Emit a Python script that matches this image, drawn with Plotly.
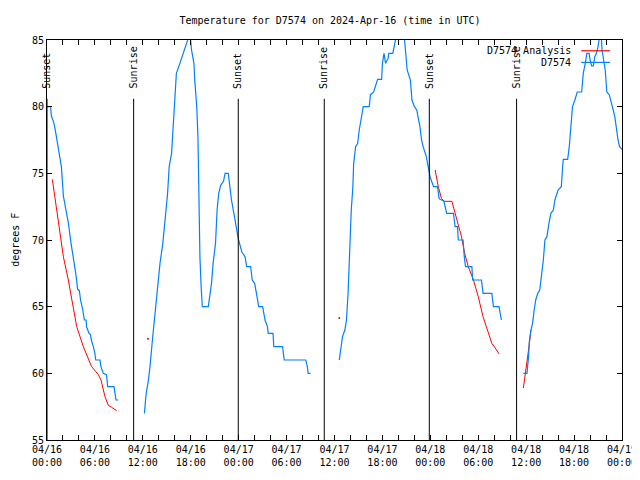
import pandas as pd
import plotly.graph_objects as go

BASE = pd.Timestamp("2024-04-16 00:00")

# ---- observed temperature (D7574), hours after 04/16 00:00 UTC, degrees F ----
obs1_h = [0.00, 0.45, 0.55, 0.70, 0.85, 1.05, 1.3, 1.5, 1.8, 2.05, 2.38, 2.67, 3.0, 3.3, 3.6, 3.84,
          4.05, 4.2, 4.47, 4.68, 4.9, 4.95, 5.26, 5.45, 5.55, 5.8, 6.0, 6.1, 6.64, 6.75, 7.05, 7.45,
          7.6, 8.39, 8.5, 8.64, 8.93]
obs1_t = [80.0, 80.0, 79.3, 79.0, 78.8, 78.2, 77.3, 76.7, 75.5, 73.3, 72.3, 71.3, 69.8, 68.8, 67.5, 66.3,
          66.2, 65.5, 64.8, 64.0, 64.0, 63.5, 63.0, 62.9, 62.5, 62.0, 61.5, 61.0, 61.0, 60.5, 60.0, 59.9,
          59.0, 59.0, 58.5, 58.0, 58.0]

obs2_h = [12.2, 12.4, 12.7, 12.9, 13.2, 13.5, 13.8, 14.15, 14.5, 14.8, 15.1, 15.3, 15.6, 15.8, 16.0,
          16.2, 16.5, 16.9, 17.1, 17.4, 17.7, 17.9, 18.1, 18.4, 18.5, 18.75, 18.9, 18.95, 19.0, 19.15,
          19.3, 19.45, 20.2, 20.4, 20.6, 20.8, 21.1, 21.3, 21.5, 21.75, 22.1, 22.3, 22.7, 22.9, 23.1,
          23.4, 23.7, 23.95, 24.4, 24.8, 25.0, 25.5, 25.7, 26.0, 26.3, 26.5, 27.0, 27.3, 27.6, 27.7,
          28.3, 28.4, 29.5, 29.7, 32.4, 32.6, 32.7, 33.0]
obs2_t = [57.0, 58.4, 59.5, 60.5, 62.5, 64.5, 66.5, 68.25, 69.75, 71.5, 73.5, 75.5, 76.5, 78.5, 80.75,
          82.5, 83.0, 83.75, 84.0, 84.6, 85.3, 85.5, 84.25, 83.25, 82.0, 80.0, 77.75, 75.25, 72.25, 68.75,
          66.5, 65.0, 65.0, 65.75, 66.75, 68.25, 69.75, 72.25, 73.5, 74.1, 74.4, 75.0, 75.0, 74.0, 73.0,
          72.0, 71.0, 70.1, 69.1, 68.75, 68.0, 68.0, 67.0, 66.75, 65.75, 65.0, 65.0, 64.0, 63.5, 63.0,
          63.0, 62.0, 62.0, 61.0, 61.0, 60.5, 60.0, 60.0]

obs3_h = [36.6, 36.8, 37.0, 37.3, 37.5, 37.7, 37.9, 38.1, 38.3, 38.4, 38.65, 38.9, 39.1, 39.4, 39.6,
          40.35, 40.5, 40.9, 41.1, 41.4, 41.9, 42.0, 42.2, 42.4, 42.7, 42.8, 43.3, 43.6, 43.8, 44.7,
          45.0, 45.1, 45.5, 45.7, 46.0, 46.3, 46.5, 46.7, 46.9, 47.1, 47.5, 47.75, 47.96, 48.4, 48.9,
          49.1, 49.7, 50.05, 50.9, 51.1, 51.4, 51.5, 52.1, 52.25, 52.4, 53.2, 53.3, 54.4, 54.6, 55.7,
          55.9, 56.6, 56.8, 56.9]
obs3_t = [61.0, 61.75, 62.75, 63.25, 64.0, 66.0, 69.25, 72.25, 74.0, 75.75, 77.0, 77.25, 78.25, 79.25, 80.0,
          80.0, 80.9, 81.1, 81.5, 82.05, 82.05, 83.25, 84.0, 83.25, 83.6, 84.0, 84.0, 84.75, 85.5, 85.5,
          83.75, 82.75, 82.0, 80.5, 80.0, 79.75, 79.1, 78.5, 77.5, 77.0, 76.25, 75.25, 74.75, 74.0, 74.0,
          73.1, 72.9, 72.0, 72.0, 71.0, 71.0, 70.0, 70.0, 68.75, 68.0, 68.0, 67.0, 67.0, 66.0, 66.0,
          65.0, 65.0, 64.25, 64.0]

obs4_h = [59.65, 60.1, 60.3, 60.4, 60.6, 60.8, 61.0, 61.2, 61.45, 61.7, 61.9, 62.15, 62.35, 62.6, 62.85,
          63.1, 63.4, 63.6, 64.0, 64.4, 64.6, 64.65, 65.2, 65.4, 65.6, 65.8, 66.1, 66.4, 66.95, 67.15,
          67.4, 67.6, 67.9, 68.0, 68.2, 68.4, 68.6, 68.8, 69.0, 69.2, 69.4, 69.5, 69.9, 70.1, 70.4,
          70.6, 70.9, 71.1, 71.3, 71.5, 71.7, 72.0]
obs4_t = [60.0, 60.0, 61.25, 62.4, 63.25, 63.75, 64.75, 65.5, 66.0, 66.25, 67.25, 68.5, 70.0, 70.25, 71.25,
          72.0, 72.25, 73.0, 73.75, 74.0, 75.75, 76.05, 76.05, 77.0, 78.5, 80.0, 80.5, 81.1, 81.1, 82.5,
          83.25, 84.0, 84.0, 83.5, 83.05, 83.05, 83.75, 84.0, 84.5, 85.3, 85.3, 84.25, 82.75, 81.1, 80.9,
          80.5, 79.75, 79.25, 78.25, 77.5, 77.0, 76.8]

# ---- analysis (D7574 Analysis) ----
ana1_h = [0.67, 1.09, 1.5, 2.05, 2.67, 3.3, 3.72, 4.55, 5.59, 6.43, 6.76, 7.26, 7.68, 8.1, 8.72]
ana1_t = [74.55, 72.75, 70.75, 68.75, 67.0, 65.0, 63.5, 62.0, 60.5, 59.9, 59.5, 58.25, 57.6, 57.45, 57.2]
ana2_h = [48.6, 49.0, 49.4, 49.8, 50.7, 51.1, 51.5, 51.9, 52.3, 52.75, 53.4, 54.0, 54.6, 55.25, 55.7, 56.3, 56.6]
ana2_t = [75.25, 74.0, 73.1, 72.9, 72.9, 72.0, 71.25, 70.25, 69.0, 68.0, 67.0, 65.75, 64.25, 63.0, 62.25, 61.75, 61.45]
ana3_h = [59.65, 60.0, 60.3, 60.6]
ana3_t = [58.9, 60.25, 61.75, 63.25]
ana_pts_h = [12.65, 36.6]
ana_pts_t = [62.6, 64.15]

# ---- sun events ----
sun_labels = ["Sunset", "Sunrise", "Sunset", "Sunrise", "Sunset", "Sunrise"]
sun_hours = [0.0, 10.85, 23.95, 34.72, 47.87, 58.8]

# ---- axis ticks ----
tick_hours = list(range(0, 73, 2))
label_hours = [0, 6, 12, 18, 24, 30, 36, 42, 48, 54, 60, 66, 72]
y_ticks = [55, 60, 65, 70, 75, 80, 85]

BLUE = "#0080ff"
RED = "#ff0000"
FONT = "DejaVu Sans Mono"


def to_time(hours):
    return BASE + pd.to_timedelta(hours, unit="h")


fig = go.Figure()
for h, t in [(ana1_h, ana1_t), (ana2_h, ana2_t), (ana3_h, ana3_t)]:
    fig.add_trace(go.Scatter(x=to_time(h), y=t, mode="lines", name="D7574 Analysis",
                             line=dict(color=RED, width=1), showlegend=False))
fig.add_trace(go.Scatter(x=to_time(ana_pts_h), y=ana_pts_t, mode="markers", name="D7574 Analysis",
                         marker=dict(color=RED, size=2), showlegend=False))
for h, t in [(obs1_h, obs1_t), (obs2_h, obs2_t), (obs3_h, obs3_t), (obs4_h, obs4_t)]:
    fig.add_trace(go.Scatter(x=to_time(h), y=t, mode="lines", name="D7574",
                             line=dict(color=BLUE, width=1.2), showlegend=False))

shapes = []
annotations = []
for lab, h in zip(sun_labels, sun_hours):
    xt = to_time(h)
    shapes.append(dict(type="line", xref="x", yref="paper", x0=xt, x1=xt, y0=0, y1=0.853,
                       line=dict(color="black", width=1)))
    annotations.append(dict(text=lab, x=xt, xref="x", y=0.873, yref="paper", textangle=-90,
                            xanchor="center", yanchor="bottom", showarrow=False,
                            font=dict(family=FONT, size=10, color="black")))

# manual legend (text left of the sample, as in the original)
for label, color, ypos in [("D7574 Analysis", RED, 0.973), ("D7574", BLUE, 0.944)]:
    annotations.append(dict(text=label, x=0.915, xref="paper", y=ypos, yref="paper",
                            xanchor="right", yanchor="middle", showarrow=False,
                            font=dict(family=FONT, size=10, color="black")))
    shapes.append(dict(type="line", xref="paper", yref="paper", x0=0.929, x1=0.979, y0=ypos, y1=ypos,
                       line=dict(color=color, width=1.2)))

annotations.append(dict(text="degrees F", x=-0.056, xref="paper", y=0.5, yref="paper", showarrow=False,
                        textangle=-90, xanchor="center", yanchor="middle",
                        font=dict(family=FONT, size=10, color="black")))

tick_text = [(to_time(h).strftime("%m/%d") + "<br>" + to_time(h).strftime("%H:%M")) if h in label_hours else ""
             for h in tick_hours]

# the page places the figure 8 px from the top-left corner (body margin); sizes compensate for it
fig.update_layout(
    width=632, height=464,
    margin=dict(l=39, r=18, t=32, b=32, autoexpand=False),
    paper_bgcolor="white", plot_bgcolor="white",
    title=dict(text="Temperature for D7574 on 2024-Apr-16 (time in UTC)", x=0.5095, xref="container",
               y=0.974, yref="container", xanchor="center", yanchor="middle",
               font=dict(family=FONT, size=10, color="black")),
    font=dict(family=FONT, size=10, color="black"),
    shapes=shapes, annotations=annotations, showlegend=False,
)
fig.update_xaxes(type="date", range=[to_time(0), to_time(72)], automargin=False,
                 tickvals=[to_time(h) for h in tick_hours], ticktext=tick_text,
                 ticks="inside", ticklen=5, tickcolor="black", showline=True, linecolor="black",
                 linewidth=1, mirror="allticks", showgrid=False, zeroline=False,
                 tickfont=dict(family=FONT, size=10, color="black"))
fig.update_yaxes(range=[55, 85], tickvals=y_ticks, ticks="inside", ticklen=5, tickcolor="black",
                 showline=True, linecolor="black", linewidth=1, mirror="allticks", showgrid=False,
                 zeroline=False, automargin=False, tickfont=dict(family=FONT, size=10, color="black"))

fig.write_html("out.html")
